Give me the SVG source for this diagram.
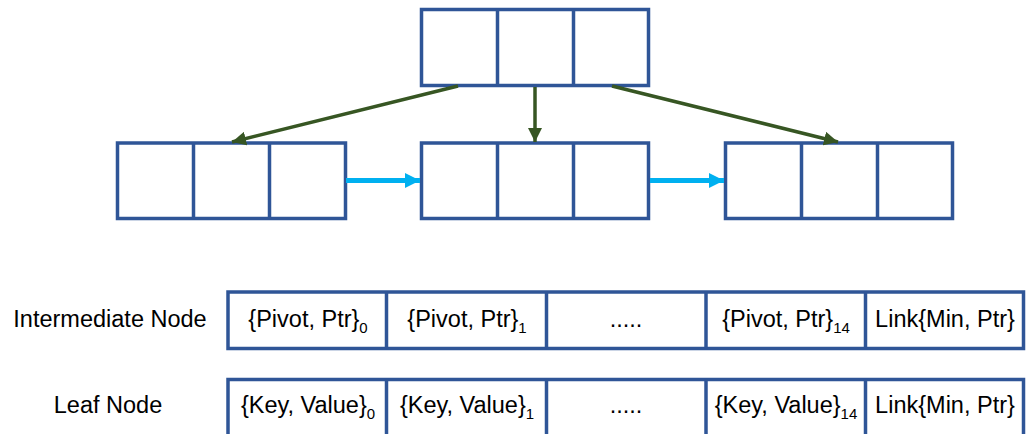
<svg xmlns="http://www.w3.org/2000/svg" width="1026" height="434" viewBox="0 0 1026 434">
<style>
.box{fill:#fff;stroke:#2F5597;stroke-width:3.5}
.div{stroke:#2F5597;stroke-width:3.5}
.g{stroke:#375623;stroke-width:3.5;fill:none}
.c{stroke:#00B0F0;stroke-width:5;fill:none}
text{font-family:"Liberation Sans",Arial,sans-serif;font-size:23.5px;fill:#000;text-anchor:middle}
.sub{font-size:15px}
</style>
<defs>
<marker id="ga" viewBox="0 0 10 10" refX="10" refY="5" markerWidth="4" markerHeight="4" markerUnits="strokeWidth" orient="auto"><path d="M0,0 L10,5 L0,10 z" fill="#375623"/></marker>
<marker id="ca" viewBox="0 0 10 10" refX="10" refY="5" markerWidth="3" markerHeight="3.4" markerUnits="strokeWidth" orient="auto"><path d="M0,0 L10,5 L0,10 z" fill="#00B0F0"/></marker>
</defs>
<g id="root">
<rect class="box" x="421.5" y="9.5" width="227" height="76"/>
<line class="div" x1="497.5" y1="9.5" x2="497.5" y2="85.5"/>
<line class="div" x1="573.5" y1="9.5" x2="573.5" y2="85.5"/>
</g>
<g id="child1">
<rect class="box" x="117.5" y="143" width="228" height="75.5"/>
<line class="div" x1="193.5" y1="143" x2="193.5" y2="218.5"/>
<line class="div" x1="269.5" y1="143" x2="269.5" y2="218.5"/>
</g>
<g id="child2">
<rect class="box" x="421.5" y="143" width="227" height="75.5"/>
<line class="div" x1="497.5" y1="143" x2="497.5" y2="218.5"/>
<line class="div" x1="573.5" y1="143" x2="573.5" y2="218.5"/>
</g>
<g id="child3">
<rect class="box" x="725.5" y="143" width="227" height="75.5"/>
<line class="div" x1="801.5" y1="143" x2="801.5" y2="218.5"/>
<line class="div" x1="877.5" y1="143" x2="877.5" y2="218.5"/>
</g>
<g id="connectors">
<line class="g" x1="458" y1="86" x2="232" y2="142" marker-end="url(#ga)"/>
<line class="g" x1="535" y1="87" x2="535" y2="142" marker-end="url(#ga)"/>
<line class="g" x1="612" y1="86" x2="838" y2="142" marker-end="url(#ga)"/>
<line class="c" x1="346" y1="180.5" x2="420" y2="180.5" marker-end="url(#ca)"/>
<line class="c" x1="650" y1="180.5" x2="724" y2="180.5" marker-end="url(#ca)"/>
</g>
<g id="intermediate-node">
<text x="110" y="327">Intermediate Node</text>
<rect class="box" x="228" y="292" width="795.5" height="56.5"/>
<line class="div" x1="386.5" y1="292" x2="386.5" y2="348.5"/>
<line class="div" x1="546.5" y1="292" x2="546.5" y2="348.5"/>
<line class="div" x1="706" y1="292" x2="706" y2="348.5"/>
<line class="div" x1="865.5" y1="292" x2="865.5" y2="348.5"/>
<text x="308" y="327">{Pivot, Ptr}<tspan class="sub" dy="6">0</tspan></text>
<text x="467" y="327">{Pivot, Ptr}<tspan class="sub" dy="6">1</tspan></text>
<text x="626" y="327">.....</text>
<text x="786" y="327">{Pivot, Ptr}<tspan class="sub" dy="6">14</tspan></text>
<text x="945" y="327">Link{Min, Ptr}</text>
</g>
<g id="leaf-node">
<text x="108" y="413">Leaf Node</text>
<rect class="box" x="228" y="379.5" width="795.5" height="60"/>
<line class="div" x1="386.5" y1="379.5" x2="386.5" y2="440"/>
<line class="div" x1="546.5" y1="379.5" x2="546.5" y2="440"/>
<line class="div" x1="706" y1="379.5" x2="706" y2="440"/>
<line class="div" x1="865.5" y1="379.5" x2="865.5" y2="440"/>
<text x="308" y="413">{Key, Value}<tspan class="sub" dy="6">0</tspan></text>
<text x="467" y="413">{Key, Value}<tspan class="sub" dy="6">1</tspan></text>
<text x="626" y="413">.....</text>
<text x="786" y="413">{Key, Value}<tspan class="sub" dy="6">14</tspan></text>
<text x="945" y="413">Link{Min, Ptr}</text>
</g>
</svg>
